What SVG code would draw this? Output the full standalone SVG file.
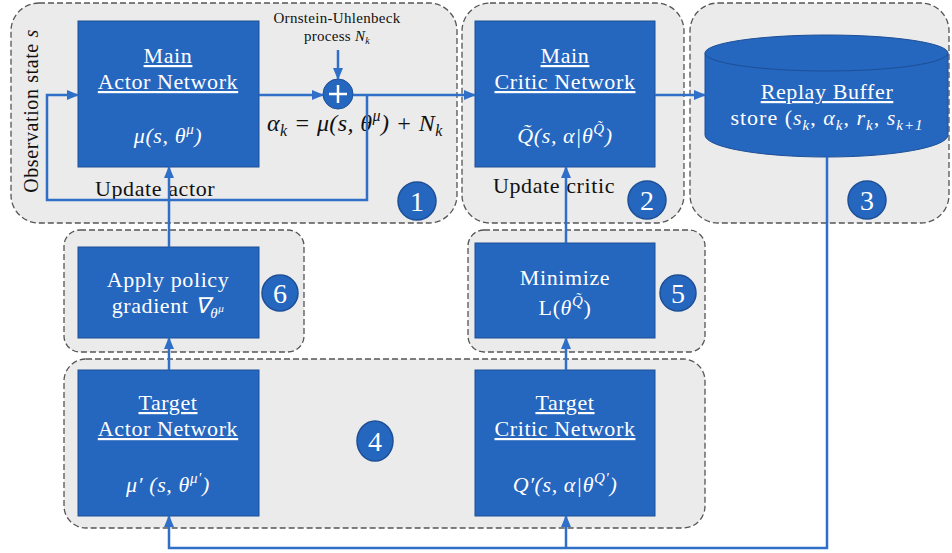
<svg xmlns="http://www.w3.org/2000/svg" width="952" height="553" viewBox="0 0 952 553">
<defs>
<marker id="arr" markerWidth="12" markerHeight="10" refX="11" refY="5" orient="auto" markerUnits="userSpaceOnUse">
<path d="M0,0 L12,5 L0,10 Z" fill="#2F6FC8"/>
</marker>
<style>
.grp{fill:#EBEBEB;stroke:#555;stroke-width:1.3;stroke-dasharray:6 3}
.box{fill:#2566BF;stroke:#1D4F96;stroke-width:1}
.wt{fill:#fff;font-family:"Liberation Serif",serif;font-size:22px;letter-spacing:0.6px;text-anchor:middle}
.ul{text-decoration:underline}
.math{font-style:italic}
.bt{fill:#111;font-family:"Liberation Serif",serif;font-size:22px;letter-spacing:0.6px}
.num{fill:#2566BF;stroke:#1D4F96;stroke-width:1.5}
.nt{fill:#fff;font-family:"Liberation Serif",serif;font-size:28px;text-anchor:middle}
.con{fill:none;stroke:#2F6FC8;stroke-width:2.5}
</style>
</defs>
<rect width="952" height="553" fill="#fff"/>

<g id="group1">
<rect class="grp" x="11" y="3" width="446" height="220" rx="28"/>
<text class="bt" transform="translate(38,111) rotate(-90)" text-anchor="middle" style="font-size:20px">Observation state <tspan class="math">s</tspan></text>
<text class="bt" x="95" y="196">Update actor</text>
<text x="337" y="23" text-anchor="middle" style="font-family:'Liberation Serif',serif;font-size:15px;letter-spacing:0.3px" fill="#111">Ornstein-Uhlenbeck</text>
<text x="337" y="41" text-anchor="middle" style="font-family:'Liberation Serif',serif;font-size:15px;letter-spacing:0.3px" fill="#111">process <tspan font-style="italic">N</tspan><tspan font-style="italic" font-size="10" dy="3">k</tspan></text>
<text x="267" y="131" class="math" style="font-family:'Liberation Serif',serif;font-size:24px;letter-spacing:0.4px" fill="#111">α<tspan font-size="16" dy="5">k</tspan><tspan dy="-5"> = μ(s, θ</tspan><tspan font-size="16" dy="-10">μ</tspan><tspan dy="10">) + N</tspan><tspan font-size="16" dy="5">k</tspan></text>
<g id="num1"><circle class="num" cx="417" cy="201" r="19"/><text class="nt" x="417" y="211">1</text></g>
</g>

<g id="main-actor">
<rect class="box" x="78" y="21" width="181" height="146"/>
<text class="wt ul" x="168" y="63">Main</text>
<text class="wt ul" x="168" y="89">Actor Network</text>
<text class="wt math" x="168" y="143">μ(s, θ<tspan font-size="15" dy="-9">μ</tspan><tspan dy="9">)</tspan></text>
</g>

<g id="plus">
<circle cx="338" cy="94" r="15" fill="#2566BF" stroke="#1D4F96" stroke-width="1"/>
<path d="M338,85 V103 M329,94 H347" stroke="#fff" stroke-width="2.5"/>
</g>

<g id="group2">
<rect class="grp" x="462" y="3" width="222" height="220" rx="28"/>
<text class="bt" x="493" y="193">Update critic</text>
<g id="num2"><circle class="num" cx="647" cy="200" r="19"/><text class="nt" x="647" y="210">2</text></g>
</g>

<g id="main-critic">
<rect class="box" x="475" y="21" width="180" height="146"/>
<text class="wt ul" x="565" y="63">Main</text>
<text class="wt ul" x="565" y="89">Critic Network</text>
<text class="wt math" x="565" y="143">Q̃(s, α|θ<tspan font-size="15" dy="-9">Q̃</tspan><tspan dy="9">)</tspan></text>
</g>

<g id="group3">
<rect class="grp" x="690" y="3" width="259" height="220" rx="28"/>
<g id="num3"><circle class="num" cx="867" cy="200" r="19"/><text class="nt" x="867" y="210">3</text></g>
</g>

<g id="replay-buffer">
<path class="box" d="M705,53 V135 A121.5,22 0 0 0 948,135 V53"/>
<ellipse class="box" cx="826.5" cy="53" rx="121.5" ry="18"/>
<text class="wt ul" x="827" y="99">Replay Buffer</text>
<text class="wt" x="827" y="125" style="letter-spacing:1px">store (<tspan class="math">s</tspan><tspan class="math" font-size="15" dy="5">k</tspan><tspan dy="-5">, </tspan><tspan class="math">α</tspan><tspan class="math" font-size="15" dy="5">k</tspan><tspan dy="-5">, </tspan><tspan class="math">r</tspan><tspan class="math" font-size="15" dy="5">k</tspan><tspan dy="-5">, </tspan><tspan class="math">s</tspan><tspan class="math" font-size="15" dy="5">k+1</tspan></text>
</g>

<g id="group6">
<rect class="grp" x="64" y="230" width="240" height="122" rx="16"/>
<g id="num6"><circle class="num" cx="280" cy="293" r="18"/><text class="nt" x="280" y="303">6</text></g>
</g>
<g id="apply-policy">
<rect class="box" x="78" y="247" width="181" height="91"/>
<text class="wt" x="168" y="287">Apply policy</text>
<text class="wt" x="168" y="313">gradient <tspan class="math">∇</tspan><tspan class="math" font-size="15" dy="5">θ</tspan><tspan class="math" font-size="11" dy="-6">μ</tspan></text>
</g>

<g id="group5">
<rect class="grp" x="468" y="230" width="237" height="122" rx="16"/>
<g id="num5"><circle class="num" cx="678" cy="293" r="18"/><text class="nt" x="678" y="303">5</text></g>
</g>
<g id="minimize">
<rect class="box" x="475" y="243" width="180" height="95"/>
<text class="wt" x="565" y="285">Minimize</text>
<text class="wt" x="565" y="315">L(<tspan class="math">θ</tspan><tspan class="math" font-size="15" dy="-9">Q̃</tspan><tspan dy="9">)</tspan></text>
</g>

<g id="group4">
<rect class="grp" x="64" y="359" width="641" height="169" rx="22"/>
<g id="num4"><ellipse class="num" cx="375" cy="441" rx="18" ry="20"/><text class="nt" x="375" y="451">4</text></g>
</g>
<g id="target-actor">
<rect class="box" x="78" y="370" width="181" height="146"/>
<text class="wt ul" x="168" y="410">Target</text>
<text class="wt ul" x="168" y="436">Actor Network</text>
<text class="wt math" x="168" y="492">μ′ (s, θ<tspan font-size="15" dy="-9">μ′</tspan><tspan dy="9">)</tspan></text>
</g>
<g id="target-critic">
<rect class="box" x="475" y="370" width="180" height="146"/>
<text class="wt ul" x="565" y="410">Target</text>
<text class="wt ul" x="565" y="436">Critic Network</text>
<text class="wt math" x="565" y="492">Q′(s, α|θ<tspan font-size="15" dy="-9">Q′</tspan><tspan dy="9">)</tspan></text>
</g>

<g id="connectors">
<path class="con" d="M259,95 H323" marker-end="url(#arr)"/>
<path class="con" d="M338,50 V79" marker-end="url(#arr)"/>
<path class="con" d="M353,95 H475" marker-end="url(#arr)"/>
<path class="con" d="M367,95 V200 H47 V95 H78" marker-end="url(#arr)"/>
<path class="con" d="M655,95 H705" marker-end="url(#arr)"/>
<path class="con" d="M169,247 V167" marker-end="url(#arr)"/>
<path class="con" d="M566,243 V167" marker-end="url(#arr)"/>
<path class="con" d="M169,370 V338" marker-end="url(#arr)"/>
<path class="con" d="M566,370 V338" marker-end="url(#arr)"/>
<path class="con" d="M827,157 V548 H169 V516" marker-end="url(#arr)"/>
<path class="con" d="M566,548 V516" marker-end="url(#arr)"/>
</g>
</svg>
